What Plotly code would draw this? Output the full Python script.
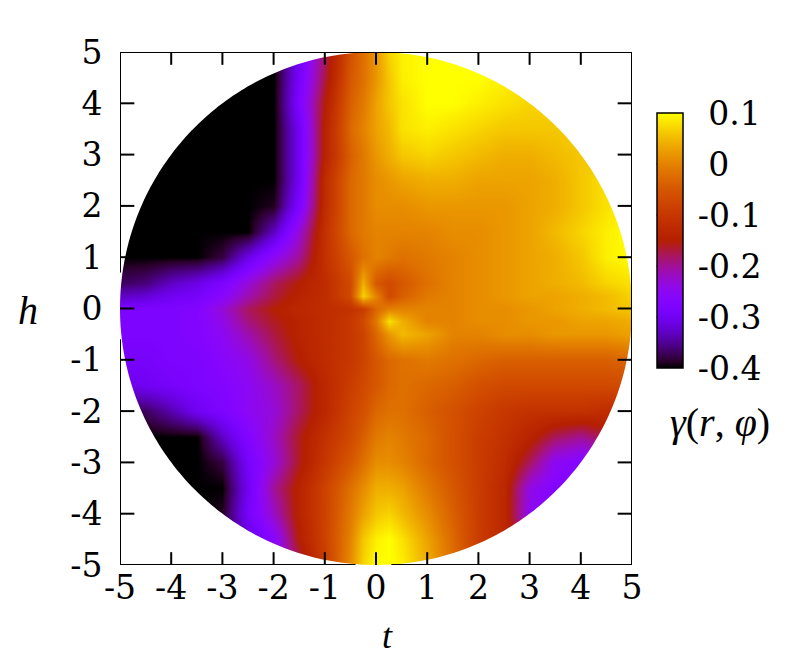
import math

import plotly.graph_objects as go

# gamma(t, h), in hundredths; finer nodes around the centre spikes
T_NODES = [-5, -4.5, -4, -3.5, -3, -2.5, -2, -1.5, -1, -0.5, -0.25, 0, 0.25, 0.5, 1, 1.5, 2, 2.5, 3, 3.5, 4, 4.5, 5]
H_NODES = [5, 4.5, 4, 3.5, 3, 2.5, 2, 1.5, 1, 0.5, 0.25, 0, -0.25, -0.5, -1, -1.5, -2, -2.5, -3, -3.5, -4, -4.5, -5]
GAMMA_TABLE = [
    [-40, -40, -40, -40, -40, -40, -40, -30, -18, -6, -2, 2, 7, 9, 10, 10, 10, 10, 10, 10, 10, 10, 10],
    [-40, -40, -40, -40, -40, -40, -40, -29, -17, -5, -2, 2, 6, 9, 10, 10, 10, 9, 8, 8, 8, 8, 8],
    [-40, -40, -40, -40, -40, -40, -40, -28, -15, -4, -1, 3, 6, 8, 10, 10, 9, 8, 7, 7, 7, 7, 7],
    [-40, -40, -40, -40, -40, -40, -40, -30, -14, -3, 0, 3, 5, 8, 9, 8, 7, 6, 6, 6, 7, 7, 7],
    [-40, -40, -40, -40, -40, -40, -40, -30, -14, -4, -1, 2, 4, 6, 7, 6, 5, 4, 4, 5, 6, 6, 6],
    [-40, -40, -40, -40, -40, -40, -40, -30, -12, -3, -1, 1, 2, 3, 4, 4, 3, 3, 3, 4, 6, 8, 8],
    [-40, -40, -40, -40, -40, -40, -39, -28, -12, -3, -1, 1, 1, 1, 2, 2, 2, 2, 3, 4, 6, 8, 9],
    [-40, -40, -40, -40, -40, -40, -33, -23, -11, -3, -1, 0, 0, 0, 0, 1, 1, 2, 3, 5, 7, 9, 10],
    [-40, -40, -40, -40, -38, -31, -25, -20, -11, -5, -2, 0, -1, -2, -1, 0, 1, 2, 3, 4, 6, 9, 10],
    [-37, -36, -33, -31, -28, -23, -18, -15, -12, -7, 4, -5, -7, -5, -2, 0, 1, 2, 3, 4, 5, 7, 8],
    [-33, -32, -30, -29, -26, -21, -17, -14, -12, -7, 7, 0, -7, -4, -1, 0, 1, 2, 3, 3, 4, 5, 7],
    [-28, -28, -28, -27, -23, -18, -15, -13, -12, -11, -9, -3, 0, 0, 0, 0, 1, 1, 2, 3, 4, 5, 6],
    [-28, -28, -28, -27, -24, -19, -16, -14, -12, -10, -7, -1, 8, 4, 0, 0, 1, 1, 2, 2, 3, 3, 4],
    [-28, -28, -28, -27, -25, -21, -17, -14, -12, -10, -8, -3, 2, 5, 3, 0, 0, 1, 1, 2, 2, 2, 3],
    [-29, -29, -28, -28, -26, -24, -19, -15, -12, -10, -8, -5, -3, -2, -1, -2, -3, -4, -4, -4, -4, -4, -3],
    [-31, -30, -29, -28, -27, -25, -22, -18, -13, -9, -7, -5, -3, -2, -3, -4, -6, -7, -7, -7, -7, -7, -7],
    [-38, -37, -34, -30, -28, -25, -23, -18, -13, -8, -6, -3, -2, -2, -4, -6, -8, -10, -11, -11, -11, -12, -12],
    [-40, -40, -40, -40, -33, -27, -22, -16, -11, -7, -4, -1, 0, -1, -3, -6, -9, -11, -14, -18, -20, -17, -15],
    [-40, -40, -40, -40, -38, -29, -23, -16, -10, -5, -2, 1, 1, 0, -3, -6, -9, -12, -18, -25, -27, -27, -27],
    [-40, -40, -40, -40, -40, -30, -20, -14, -8, -2, 1, 4, 4, 3, -1, -5, -9, -13, -24, -27, -27, -27, -27],
    [-40, -40, -40, -40, -39, -29, -22, -14, -8, -1, 3, 6, 7, 5, 1, -4, -9, -13, -25, -27, -27, -27, -27],
    [-40, -40, -40, -40, -38, -32, -26, -15, -8, 0, 6, 9, 10, 8, 3, -3, -9, -13, -20, -25, -27, -27, -27],
    [-40, -40, -40, -40, -36, -30, -25, -18, -9, 1, 7, 10, 10, 9, 4, -2, -9, -13, -17, -20, -23, -25, -27],
]

AXIS_TICKS = [-5, -4, -3, -2, -1, 0, 1, 2, 3, 4, 5]
AXIS_LABELS = ["-5", "-4", "-3", "-2", "-1", "0", "1", "2", "3", "4", "5"]
BAR_TICKS = [0.1, 0, -0.1, -0.2, -0.3, -0.4]
BAR_LABELS = ["\u00a00.1", "\u00a00", "-0.1", "-0.2", "-0.3", "-0.4"]
GAMMA_MIN = -0.4
GAMMA_MAX = 0.1
DISC_RADIUS = 5

TICK_FONT = {"family": "DejaVu Serif", "size": 33, "color": "black"}
MATH_FONT = {"family": "Liberation Serif", "size": 40, "color": "black"}
T_FONT = {"family": "Liberation Serif", "size": 36, "color": "black"}
LINE = {"color": "black", "width": 2}


def gnuplot_colorscale(steps=40):
    # gnuplot pm3d default palette (rgbformulae 7,5,15)
    stops = []
    for i in range(steps + 1):
        x = i / steps
        red = round(255 * math.sqrt(x))
        green = round(255 * x**3)
        blue = round(255 * max(math.sin(2 * math.pi * x), 0))
        stops.append([x, f"rgb({red},{green},{blue})"])
    return stops


def segment(x0, y0, x1, y1):
    return {"type": "line", "xref": "x", "yref": "y", "x0": x0, "y0": y0, "x1": x1, "y1": y1, "layer": "above", "line": LINE}


gamma = [[v / 100 for v in row] for row in reversed(GAMMA_TABLE)]

fig = go.Figure()
fig.add_trace(
    go.Heatmap(
        x=T_NODES,
        y=list(reversed(H_NODES)),
        z=gamma,
        zsmooth="best",
        zmin=GAMMA_MIN,
        zmax=GAMMA_MAX,
        colorscale=gnuplot_colorscale(),
        colorbar={
            "thickness": 26,
            "thicknessmode": "pixels",
            "len": 255,
            "lenmode": "pixels",
            "x": 1.048,
            "xanchor": "left",
            "xpad": 0,
            "y": 0.881,
            "yanchor": "top",
            "ypad": 0,
            "outlinecolor": "black",
            "outlinewidth": 1.5,
            "tickmode": "array",
            "tickvals": BAR_TICKS,
            "ticktext": BAR_LABELS,
            "ticks": "outside",
            "ticklen": 8,
            "tickcolor": "rgba(0,0,0,0)",
            "tickfont": TICK_FONT,
        },
    )
)

axis_style = {
    "range": [-5, 5],
    "tickmode": "array",
    "tickvals": AXIS_TICKS,
    "ticktext": AXIS_LABELS,
    "tickfont": TICK_FONT,
    "showgrid": False,
    "zeroline": False,
    "showline": False,
}

# white mask leaves only the disc of the heatmap visible
outline = " ".join(
    f"{'M' if a == 0 else 'L'}{DISC_RADIUS * math.cos(math.radians(a)):.4f},{DISC_RADIUS * math.sin(math.radians(a)):.4f}"
    for a in range(360)
)
shapes = [
    {
        "type": "path",
        "xref": "x",
        "yref": "y",
        "path": f"M-5.02,-5.02 L5.02,-5.02 L5.02,5.02 L-5.02,5.02 Z {outline} Z",
        "fillrule": "evenodd",
        "fillcolor": "white",
        "line": {"width": 0},
        "layer": "above",
    }
]

# frame and ticks sit on top of the mask; the disc covers the frame where it touches
shapes += [
    segment(-5, 5, 5, 5),
    segment(5, -5, 5, 5),
    segment(-5, -5, -0.4, -5),
    segment(0.3, -5, 5, -5),
    segment(-5, -5, -5, -0.6),
    segment(-5, 0.7, -5, 5),
]
for tick in AXIS_TICKS[1:-1]:
    shapes += [
        segment(tick, -5, tick, -4.75),
        segment(tick, 5, tick, 4.75),
        segment(-5, tick, -4.72, tick),
        segment(5, tick, 4.72, tick),
    ]

# dashed ticks across the colour bar
bar_left, bar_right = 1.048, 1.048 + 26 / 512
bar_top, bar_bottom = 0.881, 0.881 - 255 / 513
for tick in BAR_TICKS[1:-1]:
    level = bar_bottom + (tick - GAMMA_MIN) / (GAMMA_MAX - GAMMA_MIN) * (bar_top - bar_bottom)
    shapes.append(
        {
            "type": "line",
            "xref": "paper",
            "yref": "paper",
            "x0": bar_left,
            "x1": bar_right,
            "y0": level,
            "y1": level,
            "layer": "above",
            "line": {"color": "black", "width": 1, "dash": "6px,4px"},
        }
    )

annotations = [
    {"text": "<i>t</i>", "x": 0.523, "y": -0.181, "font": T_FONT, "yanchor": "bottom"},
    {"text": "<i>h</i>", "x": -0.18, "y": 0.497, "font": MATH_FONT, "yanchor": "middle"},
    {"text": "<i>γ</i>(<i>r</i>, <i>φ</i>)", "x": 1.172, "y": 0.277, "font": MATH_FONT, "yanchor": "middle"},
]
for note in annotations:
    note.update({"xref": "paper", "yref": "paper", "showarrow": False, "xanchor": "center"})

fig.update_layout(
    width=781,
    height=651,
    margin={"l": 112, "r": 157, "t": 44, "b": 94, "autoexpand": False},
    paper_bgcolor="white",
    plot_bgcolor="white",
    xaxis={**axis_style, "ticks": ""},
    # transparent outside ticks only push the h labels clear of the frame
    yaxis={**axis_style, "ticks": "outside", "ticklen": 10, "tickcolor": "rgba(0,0,0,0)"},
    shapes=shapes,
    annotations=annotations,
)

fig.write_html("out.html")
